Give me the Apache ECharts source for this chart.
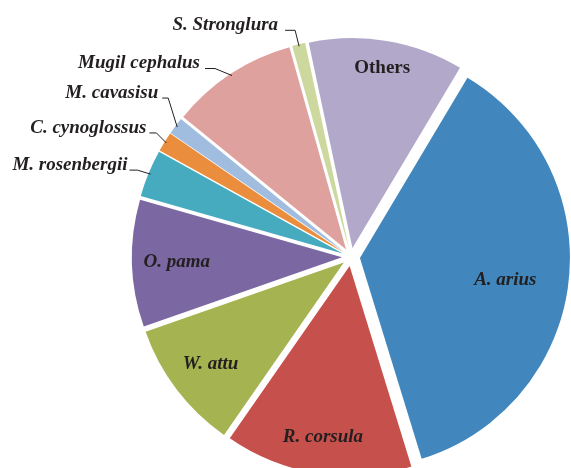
<!DOCTYPE html>
<html>
<head>
<meta charset="utf-8">
<script src="https://cdn.jsdelivr.net/npm/echarts@6/dist/echarts.min.js"></script>
<style>
  html, body { margin: 0; padding: 0; background: #fff; }
  #chart { width: 571px; height: 468px; }
</style>
</head>
<body>
<div id="chart"></div>
<script>
// catch composition (%), clockwise from the Others/A. arius split
const species = ['A. arius', 'R. corsula', 'W. attu', 'O. pama', 'M. rosenbergii', 'C. cynoglossus', 'M. cavasisu', 'Mugil cephalus', 'S. Stronglura', 'Others']
const shares = [36.4, 14.3, 9.9, 9.7, 3.6, 1.5, 1.3, 9.7, 1.0, 11.8]
const colors = ['#4187bd', '#c6504c', '#a5b350', '#7b67a2', '#46abbf', '#ea8e3d', '#a0bde0', '#dfa19e', '#cdd89e', '#b2a9ca']
const insideNames = ['A. arius', 'R. corsula', 'W. attu', 'O. pama', 'Others']

const cx = 351
const cy = 257
const R = 210
const explode = 9
const startAngle = 59.2
// inside labels: how far out along the slice they sit (fraction of radius)
const labelDepth = { 'A. arius': 0.74, 'R. corsula': 0.87, 'W. attu': 0.84, 'O. pama': 0.83, 'Others': 0.91 }
// outside labels: leader line bend (dx, dy from the slice edge), flat run, gap to the text
const leader = {
  'M. rosenbergii': [-13, -4, 8, 2],
  'C. cynoglossus': [-10, -10, 7, 3],
  'M. cavasisu': [-9, -29, 6, 4],
  'Mugil cephalus': [-17, -7, 10, 5],
  'S. Stronglura': [-4, -16, 10, 7]
}

const total = shares.reduce((a, b) => a + b, 0)
function midAngle(i) {
  let before = 0
  for (let k = 0; k < i; k++) before += shares[k]
  // radians clockwise from 12 o'clock
  return ((90 - startAngle) + (before + shares[i] / 2) / total * 360) * Math.PI / 180
}

const labelFont = {
  fontFamily: 'Liberation Serif',
  fontSize: 19,
  fontWeight: 'bold',
  fontStyle: 'italic',
  color: '#231f20'
}

const chart = echarts.init(document.getElementById('chart'))
chart.setOption({
  animation: false,
  series: [
    {
      // the exploded slices
      type: 'pie',
      center: [cx, cy],
      radius: R,
      startAngle: startAngle,
      clockwise: true,
      selectedMode: 'multiple',
      selectedOffset: explode,
      emphasis: { disabled: true },
      select: { itemStyle: { borderWidth: 0 } },
      label: { show: false },
      labelLine: { show: false },
      data: species.map((name, i) => ({
        name: name,
        value: shares[i],
        selected: true,
        itemStyle: { color: colors[i] }
      }))
    },
    {
      // same slices, invisible, only carrying the labels
      type: 'pie',
      center: [cx, cy],
      radius: R,
      startAngle: startAngle,
      clockwise: true,
      silent: true,
      z: 3,
      avoidLabelOverlap: false,
      emphasis: { disabled: true },
      itemStyle: { color: 'rgba(0,0,0,0)' },
      label: Object.assign({ show: true, position: 'outside' }, labelFont),
      labelLine: { show: true, length: 10, length2: 8, lineStyle: { color: '#231f20', width: 1 } },
      labelLayout: function (params) {
        const i = params.dataIndex
        const name = species[i]
        const a = midAngle(i)
        const dx = Math.sin(a)
        const dy = -Math.cos(a)
        if (labelDepth[name]) {
          const r = R * labelDepth[name]
          return { x: cx + r * dx, y: cy + r * dy + (name === 'A. arius' ? 5 : 0), align: 'center', verticalAlign: 'middle' }
        }
        const l = leader[name]
        const ax = cx + (R + explode - 2) * dx
        const ay = cy + (R + explode - 2) * dy
        const bx = ax + l[0]
        const by = ay + l[1]
        const ex = bx - l[2]
        return {
          x: ex - l[3],
          y: by - 5,
          align: 'right',
          verticalAlign: 'middle',
          labelLinePoints: [[ax, ay], [bx, by], [ex, by]]
        }
      },
      data: species.map((name, i) => {
        const item = { name: name, value: shares[i] }
        if (insideNames.indexOf(name) >= 0) {
          item.label = { position: 'inside' }
          item.labelLine = { show: false }
          if (name === 'Others') item.label.fontStyle = 'normal'
        }
        return item
      })
    }
  ]
})
</script>
</body>
</html>
